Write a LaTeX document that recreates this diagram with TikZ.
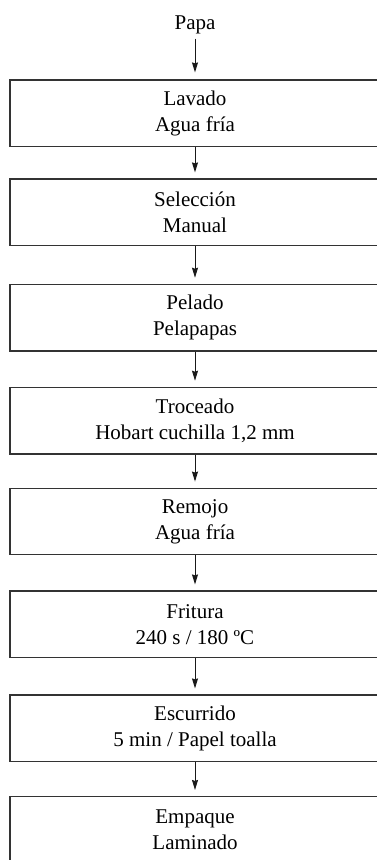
\documentclass[tikz,border=0pt]{standalone}
\usepackage{fontspec}
\setmainfont{Liberation Serif}
\usetikzlibrary{arrows.meta}
\begin{document}
\begin{tikzpicture}[x=1pt,y=-1pt,
  stepbox/.style={draw=black!80, line width=1.2pt, minimum width=370pt, minimum height=66.7pt,
    inner sep=0pt, align=center, font=\fontsize{21}{26}\selectfont},
  flow/.style={draw=black!90, line width=0.9pt, -{Stealth[length=10pt,width=6pt,inset=1pt]}, shorten >=6pt}]
\useasboundingbox (0,0) rectangle (377,860);
\clip (0,0) rectangle (377,860);
\fill[white] (0,0) rectangle (377,860);
\node[font=\fontsize{21}{26}\selectfont, anchor=base, inner sep=0pt] (papa) at (195,29) {Papa};
\node[stepbox] (b1) at (195,113.35) {Lavado\\Agua fría};
\node[stepbox] (b2) at (195,212.35) {Selección\\Manual};
\node[stepbox] (b3) at (195,317.65) {Pelado\\Pelapapas};
\node[stepbox] (b4) at (195,420.65) {Troceado\\Hobart cuchilla 1,2 mm};
\node[stepbox] (b5) at (195,521.5) {Remojo\\Agua fría};
\node[stepbox] (b6) at (195,624.35) {Fritura\\240 s / 180 ºC};
\node[stepbox] (b7) at (195,728.35) {Escurrido\\5 min / Papel toalla};
\node[stepbox] (b8) at (195,829.9) {Empaque\\Laminado};
\draw[flow, shorten <=5pt, shorten >=7pt] (papa.south) -- (b1.north);
\draw[flow] (b1.south) -- (b2.north);
\draw[flow] (b2.south) -- (b3.north);
\draw[flow] (b3.south) -- (b4.north);
\draw[flow] (b4.south) -- (b5.north);
\draw[flow] (b5.south) -- (b6.north);
\draw[flow] (b6.south) -- (b7.north);
\draw[flow] (b7.south) -- (b8.north);
\end{tikzpicture}
\end{document}
